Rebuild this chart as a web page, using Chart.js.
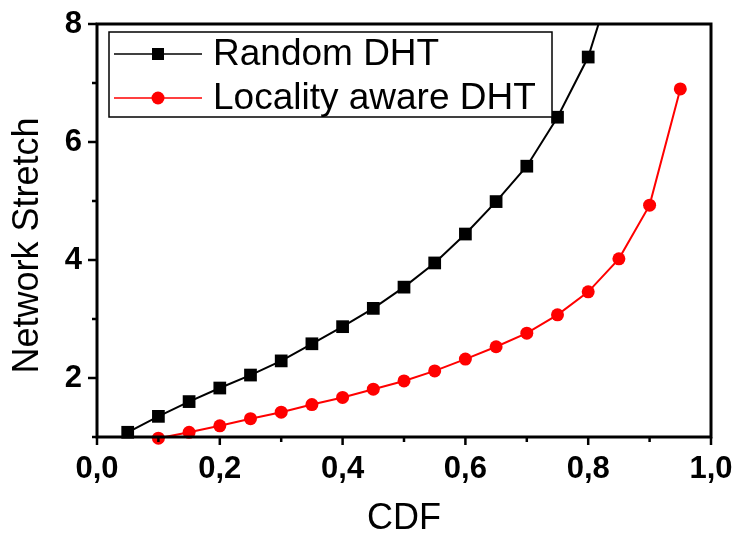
<!DOCTYPE html>
<html>
<head>
<meta charset="utf-8">
<script src="https://cdn.jsdelivr.net/npm/chart.js@4.4.1/dist/chart.umd.min.js"></script>
<style>
    html, body { margin: 0; padding: 0; background: #ffffff; }
    #wrap { width: 737px; height: 533px; position: relative; }
</style>
</head>
<body>
<div id="wrap"><canvas id="chart"></canvas></div>
<script>
// values
const randomCdf = [0.05, 0.10, 0.15, 0.20, 0.25, 0.30, 0.35, 0.40, 0.45, 0.50, 0.55, 0.60, 0.65, 0.70, 0.75, 0.80, 0.85];
const randomStretch = [1.08, 1.35, 1.60, 1.83, 2.05, 2.29, 2.58, 2.87, 3.18, 3.54, 3.95, 4.44, 4.99, 5.59, 6.42, 7.44, 9.10];

const localCdf = [0.10, 0.15, 0.20, 0.25, 0.30, 0.35, 0.40, 0.45, 0.50, 0.55, 0.60, 0.65, 0.70, 0.75, 0.80, 0.85, 0.90, 0.95];
const localStretch = [0.98, 1.08, 1.19, 1.31, 1.42, 1.55, 1.67, 1.81, 1.95, 2.12, 2.32, 2.53, 2.76, 3.07, 3.46, 4.02, 4.93, 6.90];

const seriesNames = ['Random DHT', 'Locality aware DHT'];

const xMin = 0, xMax = 1, xStep = 0.1;
const yMin = 1, yMax = 8, yStep = 1;

const fontFamily = '"Liberation Sans", Arial, sans-serif';

const toPoints = (xs, ys) => xs.map((x, i) => ({ x, y: ys[i] }));

// frame, outward tick marks and the boxed legend
const framePlugin = {
    id: 'frame',
    afterLayout(chart) {
        // the y title sits a little below the middle of the axis in the original
        chart.scales.y.bottom += 30;
    },
    afterDraw(chart) {
        const { ctx, chartArea: area, scales } = chart;
        const xs = scales.x;
        const ys = scales.y;

        ctx.save();
        ctx.strokeStyle = '#000';
        ctx.lineCap = 'butt';

        // long marks on labelled ticks, short ones between
        ctx.lineWidth = 2.5;
        xs.ticks.forEach((tick, i) => {
            const px = xs.getPixelForValue(tick.value);
            const len = i % 2 === 0 ? 8 : 5;
            ctx.beginPath();
            ctx.moveTo(px, area.bottom);
            ctx.lineTo(px, area.bottom + len);
            ctx.stroke();
        });
        ys.ticks.forEach((tick) => {
            const py = ys.getPixelForValue(tick.value);
            const len = Math.round(tick.value) % 2 === 0 ? 9 : 5;
            ctx.beginPath();
            ctx.moveTo(area.left, py);
            ctx.lineTo(area.left - len, py);
            ctx.stroke();
        });

        ctx.lineWidth = 3;
        ctx.strokeRect(area.left, area.top, area.right - area.left, area.bottom - area.top);

        // legend
        const boxX = area.left + 12;
        const boxY = area.top + 8;
        const boxW = 443;
        const boxH = 85;
        ctx.fillStyle = '#fff';
        ctx.fillRect(boxX, boxY, boxW, boxH);
        ctx.lineWidth = 1.5;
        ctx.strokeRect(boxX, boxY, boxW, boxH);

        chart.data.datasets.forEach((ds, i) => {
            const cy = boxY + 22 + i * 44;
            ctx.strokeStyle = ds.borderColor;
            ctx.lineWidth = 1.5;
            ctx.beginPath();
            ctx.moveTo(boxX + 5, cy);
            ctx.lineTo(boxX + 93, cy);
            ctx.stroke();

            ctx.fillStyle = ds.pointBackgroundColor;
            const mx = boxX + 49;
            if (ds.pointStyle === 'rect') {
                ctx.fillRect(mx - 6, cy - 6, 12, 12);
            } else {
                ctx.beginPath();
                ctx.arc(mx, cy, 6.5, 0, Math.PI * 2);
                ctx.fill();
            }

            ctx.fillStyle = '#000';
            ctx.font = `37px ${fontFamily}`;
            ctx.textBaseline = 'middle';
            ctx.textAlign = 'left';
            ctx.fillText(ds.label, boxX + 104, cy + 1);
        });

        ctx.restore();
    }
};

new Chart(document.getElementById('chart'), {
    type: 'line',
    data: {
        datasets: [{
            label: seriesNames[0],
            data: toPoints(randomCdf, randomStretch),
            borderColor: '#000000',
            backgroundColor: '#000000',
            pointBackgroundColor: '#000000',
            pointBorderWidth: 0,
            borderWidth: 2,
            pointStyle: 'rect',
            pointRadius: 9,
            tension: 0,
            clip: 0
        }, {
            label: seriesNames[1],
            data: toPoints(localCdf, localStretch),
            borderColor: '#ff0000',
            backgroundColor: '#ff0000',
            pointBackgroundColor: '#ff0000',
            pointBorderWidth: 0,
            borderWidth: 2,
            pointStyle: 'circle',
            pointRadius: 6.5,
            tension: 0,
            clip: 0
        }]
    },
    options: {
        responsive: true,
        maintainAspectRatio: false,
        animation: false,
        layout: {
            padding: { top: 24, right: 26, left: 0, bottom: 0 }
        },
        plugins: {
            legend: { display: false },
            tooltip: { enabled: false }
        },
        scales: {
            x: {
                type: 'linear',
                min: xMin,
                max: xMax,
                grid: { display: false, drawTicks: false },
                border: { display: false },
                ticks: {
                    stepSize: xStep,
                    color: '#000',
                    padding: 14,
                    maxRotation: 0,
                    autoSkip: false,
                    font: { family: fontFamily, size: 31, weight: 'bold' },
                    callback: (value, index) => index % 2 === 0 ? value.toFixed(1).replace('.', ',') : ''
                },
                title: {
                    display: true,
                    text: 'CDF',
                    color: '#000',
                    font: { family: fontFamily, size: 36, lineHeight: 1 },
                    padding: { top: 0, bottom: -4 }
                },
                afterFit: (scale) => {
                    scale.height = 96;
                    scale.paddingLeft = 0;
                    scale.paddingRight = 0;
                }
            },
            y: {
                type: 'linear',
                min: yMin,
                max: yMax,
                grid: { display: false, drawTicks: false },
                border: { display: false },
                ticks: {
                    stepSize: yStep,
                    color: '#000',
                    padding: 15,
                    autoSkip: false,
                    font: { family: fontFamily, size: 31, weight: 'bold' },
                    callback: (value) => value % 2 === 0 ? String(value) : ''
                },
                title: {
                    display: true,
                    text: 'Network Stretch',
                    color: '#000',
                    font: { family: fontFamily, size: 36, lineHeight: 1 },
                    padding: { top: 10, bottom: 0 }
                },
                afterFit: (scale) => {
                    scale.width = 97;
                    scale.paddingTop = 0;
                    scale.paddingBottom = 0;
                }
            }
        }
    },
    plugins: [framePlugin]
});
</script>
</body>
</html>
